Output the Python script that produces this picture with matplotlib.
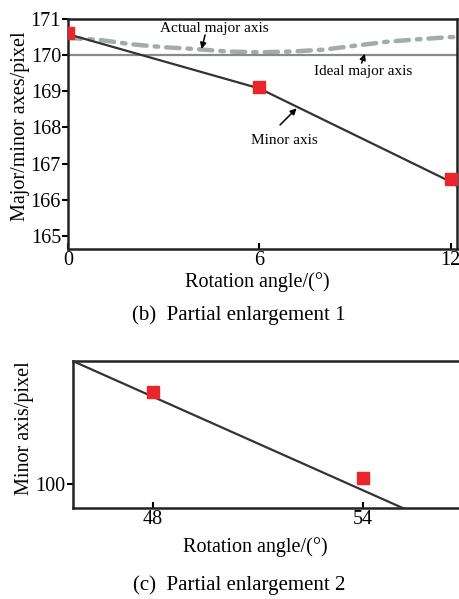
import matplotlib
matplotlib.use("Agg")
import matplotlib.pyplot as plt

plt.rcParams['font.family'] = ['Liberation Serif', 'DejaVu Serif']

# panel (b) data
minor_x = [0, 6, 12, 12.2]
minor_y = [170.58, 169.08, 166.5, 166.38]
sq_x = [0, 6, 12]
sq_y = [170.6, 169.12, 166.57]
actual_x = [0, 1, 2, 3, 4, 5, 6, 7, 8, 9, 10, 11, 12, 12.2]
actual_y = [170.48, 170.42, 170.3, 170.22, 170.17, 170.1, 170.08, 170.1, 170.15, 170.26, 170.37, 170.44, 170.5, 170.5]
ideal_y = 170.0

# panel (c) data
minor2_x = [45.7, 48, 51, 54, 55.6]
minor2_y = [118.97, 113.46, 106.27, 99.08, 95.25]
sq2_x = [48, 54]
sq2_y = [114.15, 100.9]

line_c = '#333333'
red = '#e8262b'


def style_axes(a):
    a.tick_params(axis='x', direction='in', length=4, width=1.5, labelsize=14.5, pad=1.5)
    a.tick_params(axis='y', direction='out', length=4, width=1.5, labelsize=14.5, pad=1)
    for s in a.spines.values():
        s.set_linewidth(1.8)
        s.set_color('#222222')


fig = plt.figure(figsize=(4.6, 5.99), dpi=100)

# ---- top panel
ax = fig.add_axes([0.1478, 0.5843, 0.8457, 0.384])
ax.plot(actual_x, actual_y, color='#a3aca9', lw=3.2, ls=(0, (3, 1.8, 0.8, 1.8)),
        dash_capstyle='round', zorder=2)
ax.axhline(ideal_y, color='#8a8a8a', lw=1.6, zorder=2)
ax.plot(minor_x, minor_y, color=line_c, lw=1.6, zorder=3)
ax.plot(sq_x, sq_y, 's', color=red, ms=8.5, zorder=4)
ax.set_xlim(0, 12.2)
ax.set_ylim(164.64, 171)
ax.set_xticks([0, 6, 12])
ax.set_yticks([165, 166, 167, 168, 169, 170, 171])
style_axes(ax)

arr = dict(arrowstyle='-|>', color='black', lw=1.1, mutation_scale=9,
           shrinkA=0, shrinkB=0)
ax.annotate('', xy=(4.19, 170.17), xytext=(4.30, 170.56), arrowprops=arr)
ax.text(4.58, 170.75, 'Actual major axis', fontsize=11, ha='center', va='center')
ax.annotate('', xy=(9.31, 170.04), xytext=(9.21, 169.78), arrowprops=arr)
ax.text(9.25, 169.54, 'Ideal major axis', fontsize=11, ha='center', va='center')
ax.annotate('', xy=(7.17, 168.53), xytext=(6.65, 168.07), arrowprops=arr)
ax.text(6.80, 167.65, 'Minor axis', fontsize=11, ha='center', va='center')

fig.text(0.559, 0.5285, 'Rotation angle/(°)', fontsize=14.5, ha='center', va='center')
fig.text(0.0435, 0.79, 'Major/minor axes/pixel', fontsize=14.5, ha='center', va='center',
         rotation=90)
fig.text(0.52, 0.474, '(b)  Partial enlargement 1', fontsize=15, ha='center', va='center')

# ---- bottom panel
ax2 = fig.add_axes([0.158, 0.1514, 0.842, 0.2459])
ax2.plot(minor2_x, minor2_y, color=line_c, lw=1.6, zorder=3)
ax2.plot(sq2_x, sq2_y, 's', color=red, ms=8.5, zorder=4)
ax2.set_xlim(45.7, 56.78)
ax2.set_ylim(96.3, 118.97)
ax2.set_xticks([48, 54])
ax2.set_yticks([100])
style_axes(ax2)
ax2.spines['right'].set_visible(False)

fig.text(0.554, 0.0868, 'Rotation angle/(°)', fontsize=14.5, ha='center', va='center')
fig.text(0.054, 0.2855, 'Minor axis/pixel', fontsize=14.5, ha='center', va='center',
         rotation=90)
fig.text(0.52, 0.0234, '(c)  Partial enlargement 2', fontsize=15, ha='center', va='center')

fig.savefig('out.png', dpi=100)
